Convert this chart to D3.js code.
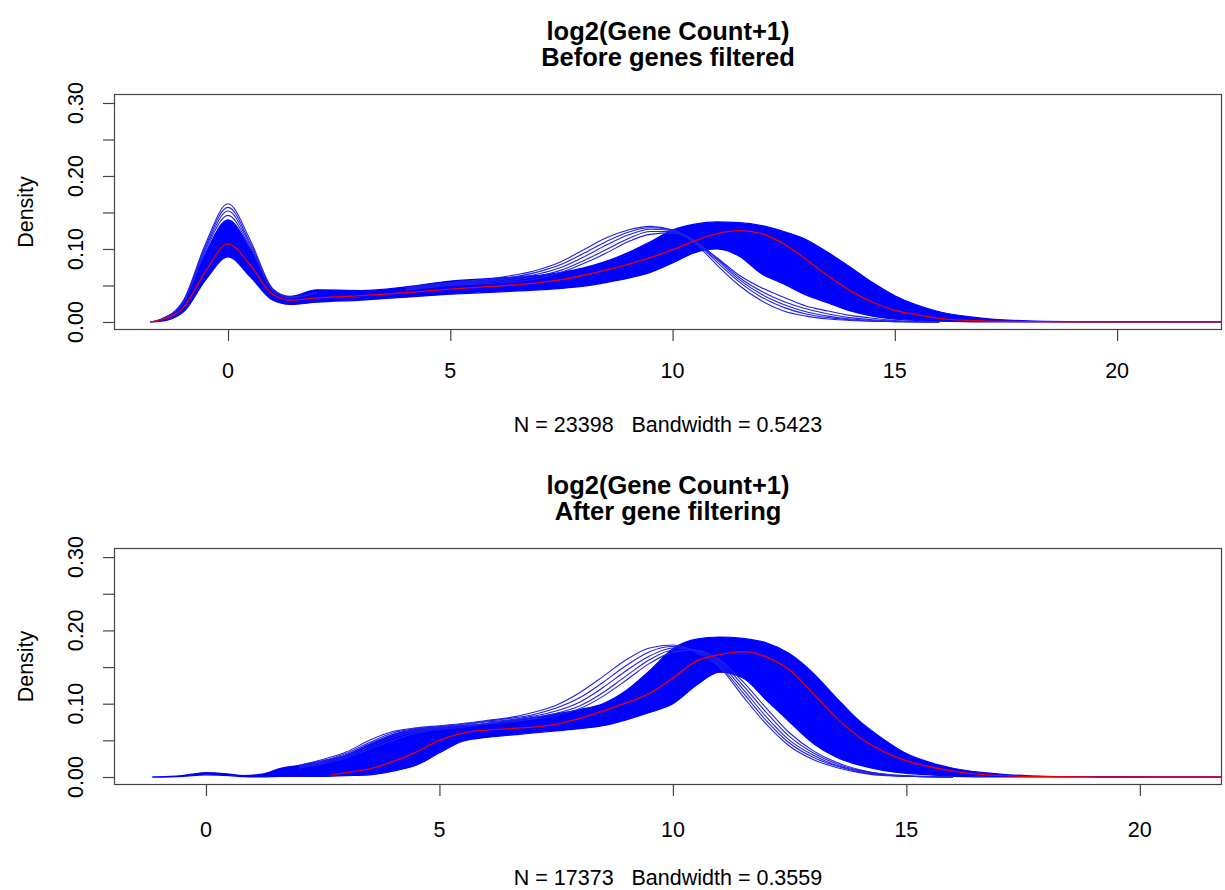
<!DOCTYPE html>
<html><head><meta charset="utf-8">
<script src="https://cdn.jsdelivr.net/npm/d3@7"></script>
<style>
body{margin:0;background:#fff}
svg{display:block}
text{font-family:"Liberation Sans",Arial,Helvetica,sans-serif;fill:#000}
</style>
</head><body>
<svg id="c" width="1225" height="890"></svg>
<script>
// ---------------- DATA ----------------
// Top panel: before filtering
const topX      = [-1.75,-1.5,-1.0,-0.5,0,0.5,1.0,1.4,2,3,4,5,6,7,7.5,8,8.5,9,9.5,10,10.5,11,11.5,12,12.5,13,13.5,14,14.5,15,15.5,16,17,18,19,20,22.4];
const topRed    = [0,0.003,0.020,0.070,0.107,0.078,0.038,0.030,0.033,0.036,0.040,0.045,0.049,0.054,0.058,0.064,0.071,0.079,0.088,0.099,0.111,0.121,0.125,0.121,0.107,0.086,0.063,0.043,0.027,0.016,0.010,0.005,0.0015,0.0005,0.0002,0.0001,0];
const topUpper  = [0,0.004,0.026,0.095,0.140,0.100,0.045,0.035,0.044,0.043,0.048,0.056,0.060,0.064,0.068,0.074,0.083,0.095,0.110,0.126,0.134,0.137,0.136,0.132,0.124,0.113,0.095,0.075,0.054,0.036,0.023,0.014,0.005,0.0015,0.0005,0.0002,0];
const topLower  = [0,0.001,0.014,0.058,0.089,0.062,0.030,0.024,0.027,0.030,0.034,0.038,0.041,0.044,0.046,0.049,0.054,0.060,0.068,0.081,0.095,0.100,0.090,0.066,0.052,0.037,0.026,0.015,0.008,0.004,0.002,0.001,0,0,0,0,0];
const topPeakX  = [-1.5,-1.0,-0.5,0,0.5,1.0,1.4,2];
const topPeak1  = [0.004,0.030,0.108,0.162,0.112,0.046,0.034,0.040];
const topPeak2  = [0.004,0.029,0.105,0.157,0.108,0.045,0.034,0.041];
const topPeak3  = [0.004,0.028,0.102,0.152,0.105,0.044,0.033,0.040];
const topPeak4  = [0.003,0.027,0.099,0.146,0.102,0.044,0.033,0.040];
const topEarlyX = [4,5,6,7,7.5,8,8.5,9,9.5,10,10.5,11,11.5,12,12.5,13,13.5,14,14.5,15,16];
const topEarly1 = [0.047,0.054,0.060,0.072,0.083,0.099,0.115,0.126,0.131,0.126,0.108,0.078,0.050,0.029,0.015,0.008,0.004,0.002,0.001,0.0005,0];
const topEarly2 = [0.046,0.053,0.058,0.069,0.079,0.094,0.110,0.123,0.129,0.126,0.110,0.082,0.055,0.034,0.020,0.011,0.006,0.003,0.001,0.0005,0];
const topEarly3 = [0.045,0.052,0.057,0.066,0.075,0.089,0.105,0.119,0.127,0.125,0.110,0.085,0.058,0.038,0.024,0.014,0.008,0.004,0.002,0.001,0];
const topEarly4 = [0.044,0.051,0.055,0.063,0.071,0.084,0.099,0.114,0.124,0.124,0.111,0.087,0.061,0.042,0.028,0.018,0.011,0.006,0.003,0.001,0];
const topEarly5 = [0.043,0.050,0.053,0.060,0.068,0.080,0.094,0.110,0.120,0.122,0.110,0.088,0.064,0.047,0.034,0.022,0.015,0.009,0.005,0.002,0];

// Bottom panel: after filtering
const botX      = [-1.15,-0.5,0,0.5,0.8,1.2,1.6,2,2.5,3,3.5,4,4.5,5,5.5,6,6.5,7,7.5,8,8.5,9,9.5,10,10.5,11,11.5,12,12.5,13,13.5,14,14.5,15,15.5,16,17,18,19,20,21.8];
const botUpper  = [0,0.002,0.006,0.004,0.002,0.004,0.012,0.016,0.022,0.030,0.045,0.058,0.065,0.068,0.070,0.073,0.077,0.081,0.086,0.092,0.100,0.118,0.145,0.175,0.188,0.191,0.189,0.183,0.168,0.142,0.108,0.076,0.052,0.032,0.020,0.012,0.004,0.001,0.0003,0.0001,0];
const botLower  = [0,0.001,0.003,0.002,0.0005,0,0.001,0.001,0.001,0.002,0.003,0.008,0.016,0.033,0.049,0.054,0.057,0.060,0.063,0.066,0.070,0.078,0.088,0.100,0.125,0.143,0.135,0.105,0.075,0.046,0.027,0.016,0.009,0.005,0.003,0.001,0,0,0,0,0];
const botRedX   = [2.7,3,3.5,4,4.5,5,5.5,6,6.5,7,7.5,8,8.5,9,9.5,10,10.5,11,11.5,12,12.5,13,13.5,14,14.5,15,15.5,16,17,18,19,20,21.8];
const botRed    = [0.003,0.006,0.011,0.021,0.034,0.050,0.060,0.064,0.066,0.068,0.072,0.080,0.090,0.101,0.114,0.135,0.158,0.167,0.171,0.164,0.146,0.114,0.081,0.054,0.035,0.022,0.014,0.008,0.002,0.0005,0.0001,0,0];
const botEarlyX = [2,2.5,3,3.5,4,4.5,5,5.5,6,6.5,7,7.5,8,8.5,9,9.5,10,10.5,11,11.5,12,12.5,13,13.5,14,14.5,15,16];
const botEarly1 = [0.016,0.024,0.034,0.050,0.062,0.067,0.070,0.073,0.077,0.081,0.088,0.098,0.115,0.137,0.160,0.176,0.180,0.170,0.150,0.110,0.072,0.042,0.024,0.013,0.006,0.002,0.001,0];
const botEarly2 = [0.015,0.022,0.032,0.047,0.060,0.066,0.069,0.072,0.076,0.080,0.085,0.094,0.108,0.129,0.152,0.171,0.178,0.172,0.152,0.115,0.077,0.046,0.027,0.015,0.007,0.003,0.001,0];
const botEarly3 = [0.014,0.021,0.030,0.044,0.057,0.064,0.068,0.071,0.075,0.078,0.083,0.090,0.102,0.122,0.145,0.165,0.176,0.173,0.155,0.120,0.082,0.050,0.030,0.016,0.008,0.003,0.001,0];
const botEarly4 = [0.013,0.020,0.028,0.041,0.054,0.062,0.067,0.070,0.073,0.077,0.081,0.087,0.097,0.115,0.138,0.160,0.173,0.173,0.158,0.125,0.088,0.055,0.033,0.018,0.009,0.004,0.001,0];
const botEarly5 = [0.012,0.018,0.026,0.038,0.050,0.060,0.065,0.068,0.072,0.075,0.079,0.084,0.093,0.110,0.132,0.155,0.170,0.173,0.160,0.130,0.094,0.060,0.036,0.020,0.010,0.004,0.002,0];

// Axis ticks and text
const xTicks       = [0,5,10,15,20];
const yTicks       = [0,0.05,0.10,0.15,0.20,0.25,0.30];
const yTickLabels  = [0,0.10,0.20,0.30];
const titleLine1   = ["log2(Gene Count+1)","log2(Gene Count+1)"];
const titleLine2   = ["Before genes filtered","After gene filtering"];
const subLabels    = ["N = 23398   Bandwidth = 0.5423","N = 17373   Bandwidth = 0.3559"];
const yAxisLabel   = "Density";

// ---------------- LAYOUT ----------------
const panels = [
  { box:{l:114,r:1222,t:94,b:330}, xdom:[-2.565,22.36], ydom:[-0.011,0.3123],
    t1y:40, t2y:66, tickLabY:378, subY:432,
    band:{x:topX,up:topUpper,lo:topLower},
    lines:[[topPeakX,topPeak1],[topPeakX,topPeak2],[topPeakX,topPeak3],[topPeakX,topPeak4],
           [topEarlyX,topEarly1],[topEarlyX,topEarly2],[topEarlyX,topEarly3],[topEarlyX,topEarly4],[topEarlyX,topEarly5]],
    red:[topX,topRed] },
  { box:{l:114,r:1222,t:548,b:785}, xdom:[-1.97,21.76], ydom:[-0.0109,0.3124],
    t1y:494, t2y:520, tickLabY:837, subY:885,
    band:{x:botX,up:botUpper,lo:botLower},
    lines:[[botEarlyX,botEarly1],[botEarlyX,botEarly2],[botEarlyX,botEarly3],[botEarlyX,botEarly4],[botEarlyX,botEarly5]],
    red:[botRedX,botRed] }
];

const svg = d3.select("#c");
const axisCol = "#444";
const blue = "#0000ff";
const axisFont = "21.5px";
const titleFont = "25.5px";

panels.forEach((p,i)=>{
  const b = p.box;
  const x = d3.scaleLinear().domain(p.xdom).range([b.l,b.r]);
  const y = d3.scaleLinear().domain(p.ydom).range([b.b,b.t]);
  const g = svg.append("g");
  const clipId = "clip"+i;
  svg.append("clipPath").attr("id",clipId).append("rect")
    .attr("x",b.l).attr("y",b.t).attr("width",b.r-b.l).attr("height",b.b-b.t);
  const plot = g.append("g").attr("clip-path",`url(#${clipId})`);

  const curve = d3.curveMonotoneX;
  // main blue mass of overlapping curves
  const bandData = p.band.x.map((v,k)=>({x:v,u:p.band.up[k],l:p.band.lo[k]}));
  plot.append("path").datum(bandData)
    .attr("d", d3.area().curve(curve).x(d=>x(d.x)).y0(d=>y(d.l)).y1(d=>y(d.u)))
    .attr("fill",blue).attr("stroke","none");
  const lineGen = d3.line().curve(curve).x(d=>x(d[0])).y(d=>y(d[1]));
  [p.band.up,p.band.lo].forEach(arr=>{
    plot.append("path").datum(p.band.x.map((v,k)=>[v,arr[k]]))
      .attr("d",lineGen).attr("fill","none").attr("stroke",blue).attr("stroke-width",1.2);
  });
  // individual visible curves
  p.lines.forEach(([xs,ys])=>{
    plot.append("path").datum(xs.map((v,k)=>[v,ys[k]]))
      .attr("d",lineGen).attr("fill","none").attr("stroke","#2020e8").attr("stroke-width",1.1);
  });
  // red reference curve
  plot.append("path").datum(p.red[0].map((v,k)=>[v,p.red[1][k]]))
    .attr("d",lineGen).attr("fill","none").attr("stroke","#ee0000").attr("stroke-width",1.3);

  // frame
  g.append("rect").attr("x",b.l+0.5).attr("y",b.t+0.5).attr("width",b.r-b.l-1).attr("height",b.b-b.t-1)
    .attr("fill","none").attr("stroke",axisCol).attr("stroke-width",1.2);

  // x axis
  const xa = g.append("g").attr("transform",`translate(0,${b.b})`)
    .call(d3.axisBottom(x).tickValues(xTicks).tickSize(11).tickFormat(""));
  xa.select(".domain").remove();
  xa.selectAll("line").attr("stroke",axisCol).attr("stroke-width",1.2);
  g.selectAll(null).data(xTicks).enter().append("text")
    .attr("x",d=>x(d)).attr("y",p.tickLabY).attr("text-anchor","middle")
    .style("font-size",axisFont).text(d=>d);

  // y axis
  const ya = g.append("g").attr("transform",`translate(${b.l},0)`)
    .call(d3.axisLeft(y).tickValues(yTicks).tickSize(11).tickFormat(""));
  ya.select(".domain").remove();
  ya.selectAll("line").attr("stroke",axisCol).attr("stroke-width",1.2);
  g.selectAll(null).data(yTickLabels).enter().append("text")
    .attr("transform",d=>`translate(75,${y(d)}) rotate(-90)`)
    .attr("dy","0.35em").attr("text-anchor","middle")
    .style("font-size",axisFont).text(d=>d3.format(".2f")(d));

  // axis titles
  g.append("text").attr("transform",`translate(25,${(b.t+b.b)/2}) rotate(-90)`)
    .attr("dy","0.35em").attr("text-anchor","middle").style("font-size",axisFont).text(yAxisLabel);
  const cx = (b.l+b.r)/2;
  g.append("text").attr("x",cx).attr("y",p.subY).attr("text-anchor","middle")
    .style("font-size",axisFont).style("white-space","pre").text(subLabels[i]);

  // main titles
  g.append("text").attr("x",cx).attr("y",p.t1y).attr("text-anchor","middle")
    .style("font-size",titleFont).style("font-weight","bold").text(titleLine1[i]);
  g.append("text").attr("x",cx).attr("y",p.t2y).attr("text-anchor","middle")
    .style("font-size",titleFont).style("font-weight","bold").text(titleLine2[i]);
});
</script>
</body></html>
